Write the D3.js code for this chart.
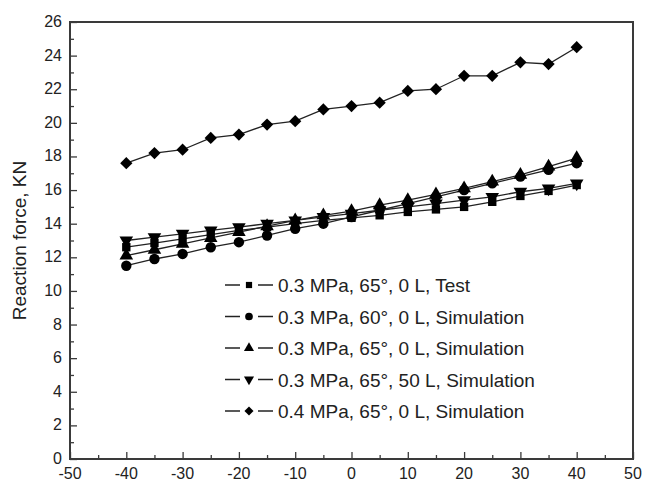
<!DOCTYPE html>
<html>
<head>
<meta charset="utf-8">
<script src="https://cdn.jsdelivr.net/npm/d3@7"></script>
<style>
  body { margin: 0; background: #fff; }
  svg { font-family: "Liberation Sans", Arial, sans-serif; }
</style>
</head>
<body>
<svg id="chart"></svg>
<script>
// displacement, mm (x values)
const xValues = [-40, -35, -30, -25, -20, -15, -10, -5, 0, 5, 10, 15, 20, 25, 30, 35, 40];

const testSquare   = [12.6, 12.85, 13.1, 13.35, 13.6, 13.8, 14.0, 14.2, 14.35, 14.5, 14.7, 14.85, 15.0, 15.3, 15.65, 15.95, 16.3];
const simCircle    = [11.5, 11.9, 12.2, 12.6, 12.9, 13.3, 13.7, 14.0, 14.4, 14.8, 15.2, 15.6, 16.0, 16.4, 16.8, 17.2, 17.6];
const simTriUp     = [12.1, 12.45, 12.8, 13.15, 13.5, 13.85, 14.2, 14.5, 14.75, 15.1, 15.4, 15.75, 16.1, 16.5, 16.9, 17.4, 17.9];
const simTriDown   = [13.0, 13.2, 13.4, 13.6, 13.8, 14.0, 14.2, 14.4, 14.6, 14.8, 15.0, 15.2, 15.4, 15.6, 15.9, 16.1, 16.4];
const simDiamond   = [17.6, 18.2, 18.4, 19.1, 19.3, 19.9, 20.1, 20.8, 21.0, 21.2, 21.9, 22.0, 22.8, 22.8, 23.6, 23.5, 24.5];

const seriesNames = [
  "0.3 MPa, 65°, 0 L, Test",
  "0.3 MPa, 60°, 0 L, Simulation",
  "0.3 MPa, 65°, 0 L, Simulation",
  "0.3 MPa, 65°, 50 L, Simulation",
  "0.4 MPa, 65°, 0 L, Simulation"
];
const xTicks = [-50, -40, -30, -20, -10, 0, 10, 20, 30, 40, 50];
const yTicks = [0, 2, 4, 6, 8, 10, 12, 14, 16, 18, 20, 22, 24, 26];
const yLabel = "Reaction force, KN";

const width = 645, height = 485;
const margin = {top: 22, right: 12, bottom: 26, left: 70};

const svg = d3.select("#chart").attr("width", width).attr("height", height);

const x = d3.scaleLinear().domain([-50, 50]).range([margin.left, width - margin.right]);
const y = d3.scaleLinear().domain([0, 26]).range([height - margin.bottom, margin.top]);

// rot: extra rotation for the marker (diamond = square turned 45deg)
const series = [
  {name: seriesNames[0], values: testSquare, sym: d3.symbolSquare, size: 70, rot: 0},
  {name: seriesNames[1], values: simCircle, sym: d3.symbolCircle, size: 85, rot: 0},
  {name: seriesNames[2], values: simTriUp, sym: d3.symbolTriangle, size: 80, rot: 0},
  {name: seriesNames[3], values: simTriDown, sym: d3.symbolTriangle, size: 80, rot: 180},
  {name: seriesNames[4], values: simDiamond, sym: d3.symbolSquare, size: 75, rot: 45}
];

const axisColor = "#3a3a3a";

// ticks (inward, Origin style)
const axes = svg.append("g");
const bottom = axes.append("g")
  .attr("transform", `translate(0,${y(0)})`)
  .call(d3.axisBottom(x).tickValues(d3.range(-50, 51, 5)).tickSize(-4).tickFormat(""));
bottom.selectAll(".tick line").filter(d => d % 10 === 0).attr("y2", -7);
const left = axes.append("g")
  .attr("transform", `translate(${x(-50)},0)`)
  .call(d3.axisLeft(y).tickValues(d3.range(0, 27, 1)).tickSize(-4).tickFormat(""));
left.selectAll(".tick line").filter(d => d % 2 === 0).attr("x2", 7);
axes.selectAll(".domain").remove();
axes.selectAll(".tick line").attr("stroke", axisColor).attr("stroke-width", 1.3);

// frame
svg.append("rect")
  .attr("x", x(-50)).attr("y", y(26))
  .attr("width", x(50) - x(-50)).attr("height", y(0) - y(26))
  .attr("fill", "none").attr("stroke", axisColor).attr("stroke-width", 2);

// tick labels
svg.append("g").selectAll("text")
  .data(xTicks).join("text")
  .attr("x", d => x(d)).attr("y", y(0) + 20)
  .attr("text-anchor", "middle").attr("font-size", 16).attr("fill", "#222")
  .text(d => d);
svg.append("g").selectAll("text")
  .data(yTicks).join("text")
  .attr("x", x(-50) - 8).attr("y", d => y(d) + 5)
  .attr("text-anchor", "end").attr("font-size", 16).attr("fill", "#222")
  .text(d => d);

svg.append("text")
  .attr("transform", `translate(26,${(y(0) + y(26)) / 2}) rotate(-90)`)
  .attr("text-anchor", "middle").attr("font-size", 19).attr("fill", "#222")
  .text(yLabel);

const line = d3.line().x((d, i) => x(xValues[i])).y(d => y(d));
const plot = svg.append("g");

series.forEach(s => {
  plot.append("path")
    .attr("d", line(s.values))
    .attr("fill", "none").attr("stroke", "#222").attr("stroke-width", 1.3);
  plot.selectAll(null)
    .data(s.values).join("path")
    .attr("transform", (d, i) => `translate(${x(xValues[i])},${y(d)}) rotate(${s.rot})`)
    .attr("d", d3.symbol().type(s.sym).size(s.size))
    .attr("fill", "#000");
});

// legend
const legend = svg.append("g").attr("transform", "translate(225,285)");
series.forEach((s, i) => {
  const g = legend.append("g").attr("transform", `translate(0,${i * 31.5})`);
  g.append("line").attr("x1", 0).attr("x2", 15).attr("stroke", "#222").attr("stroke-width", 1.5);
  g.append("line").attr("x1", 33).attr("x2", 48).attr("stroke", "#222").attr("stroke-width", 1.5);
  g.append("path")
    .attr("transform", `translate(24,0) rotate(${s.rot})`)
    .attr("d", d3.symbol().type(s.sym).size(s.size * 0.55))
    .attr("fill", "#000");
  g.append("text")
    .attr("x", 53).attr("y", 7)
    .attr("font-size", 19).attr("fill", "#222")
    .text(s.name);
});
</script>
</body>
</html>
